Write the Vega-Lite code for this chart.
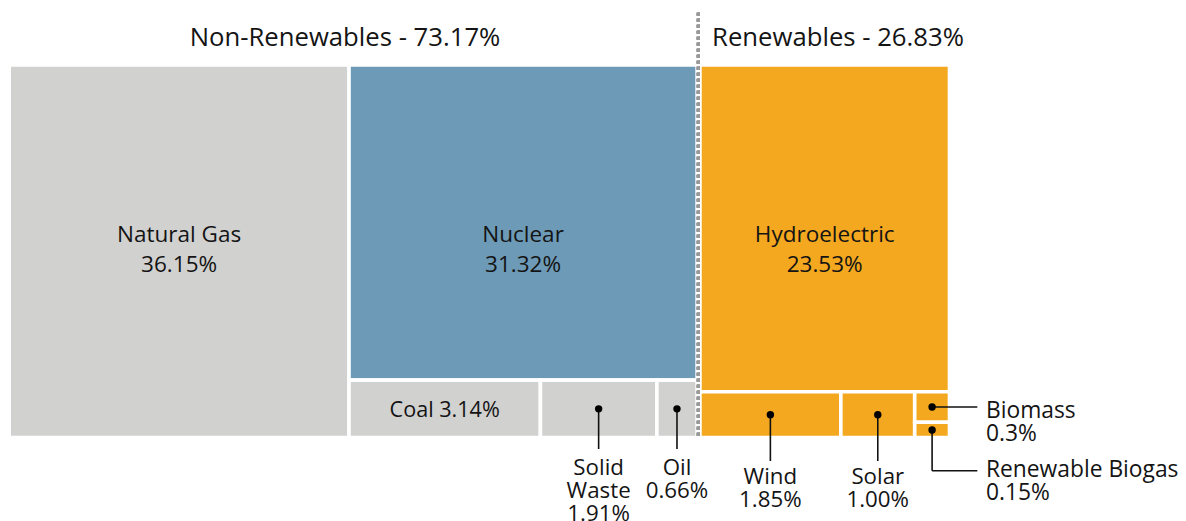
{
  "$schema": "https://vega.github.io/schema/vega-lite/v6.json",
  "width": 1186,
  "height": 521,
  "padding": 0,
  "autosize": {"type": "none"},
  "config": {"view": {"stroke": null}, "font": "Open Sans"},
  "datasets": {
    "sources": [
      {"name": "Natural Gas", "group": "Non-Renewables", "value": 36.15, "pct": "36.15%", "x0": 0, "x1": 36.15, "y0": 0, "y1": 100},
      {"name": "Nuclear", "group": "Non-Renewables", "value": 31.32, "pct": "31.32%", "x0": 36.15, "x1": 73.18, "y0": 0, "y1": 84.58},
      {"name": "Coal", "group": "Non-Renewables", "value": 3.14, "pct": "3.14%", "x0": 36.15, "x1": 56.51, "y0": 84.58, "y1": 100},
      {"name": "Solid Waste", "group": "Non-Renewables", "value": 1.91, "pct": "1.91%", "x0": 56.51, "x1": 68.9, "y0": 84.58, "y1": 100},
      {"name": "Oil", "group": "Non-Renewables", "value": 0.66, "pct": "0.66%", "x0": 68.9, "x1": 73.18, "y0": 84.58, "y1": 100},
      {"name": "Hydroelectric", "group": "Renewables", "value": 23.53, "pct": "23.53%", "x0": 73.48, "x1": 100.03, "y0": 0, "y1": 87.7},
      {"name": "Wind", "group": "Renewables", "value": 1.85, "pct": "1.85%", "x0": 73.48, "x1": 88.47, "y0": 87.7, "y1": 100},
      {"name": "Solar", "group": "Renewables", "value": 1.0, "pct": "1.00%", "x0": 88.47, "x1": 96.33, "y0": 87.7, "y1": 100},
      {"name": "Biomass", "group": "Renewables", "value": 0.3, "pct": "0.3%", "x0": 96.33, "x1": 100.03, "y0": 87.7, "y1": 95.9},
      {"name": "Renewable Biogas", "group": "Renewables", "value": 0.15, "pct": "0.15%", "x0": 96.33, "x1": 100.03, "y0": 95.9, "y1": 100}
    ],
    "groups": [
      {"group": "Non-Renewables", "share": "73.17%"},
      {"group": "Renewables", "share": "26.83%"}
    ]
  },
  "data": {"name": "sources"},
  "transform": [
    {"calculate": "(datum.x0+datum.x1)/2", "as": "cx"},
    {"calculate": "(datum.y0+datum.y1)/2", "as": "cy"},
    {"calculate": "datum.name==='Renewable Biogas' ? 108.88 : (datum.group==='Renewables' ? 106.28 : 103.06)", "as": "lend"},
    {"calculate": "datum.group==='Renewables' ? 112.5 : 110.17", "as": "ty"},
    {"calculate": "datum.name==='Solid Waste' ? 'Solid\\nWaste\\n'+datum.pct : datum.name+'\\n'+datum.pct", "as": "txt"},
    {"calculate": "datum.name==='Biomass' ? 94.61 : 110.7", "as": "ry"},
    {"calculate": "datum.name==='Biomass' ? datum.cy : 108.88", "as": "hy"}
  ],
  "layer": [
    {
      "mark": {"type": "rect", "stroke": "white", "strokeWidth": 3.6},
      "encoding": {
        "x": {"field": "x0", "type": "quantitative", "scale": {"domain": [-0.9787, 125.19], "nice": false, "zero": false}, "axis": null},
        "x2": {"field": "x1"},
        "y": {"field": "y0", "type": "quantitative", "scale": {"domain": [-17.41, 122.38], "nice": false, "zero": false, "reverse": true}, "axis": null},
        "y2": {"field": "y1"},
        "color": {
          "field": "name", "type": "nominal", "legend": null,
          "scale": {
            "domain": ["Natural Gas", "Nuclear", "Coal", "Solid Waste", "Oil", "Hydroelectric", "Wind", "Solar", "Biomass", "Renewable Biogas"],
            "range": ["#d1d1d0", "#6d9ab6", "#d1d1d0", "#d1d1d0", "#d1d1d0", "#f3a81f", "#f3a81f", "#f3a81f", "#f3a81f", "#f3a81f"]
          }
        }
      }
    },
    {
      "transform": [{"filter": {"field": "name", "oneOf": ["Natural Gas", "Nuclear", "Hydroelectric"]}}],
      "mark": {"type": "text", "align": "center", "baseline": "alphabetic", "fontSize": 22.5, "lineHeight": 30.6, "lineBreak": "\n", "color": "#141414"},
      "encoding": {
        "x": {"field": "cx", "type": "quantitative", "scale": {"domain": [-0.9787, 125.19], "nice": false, "zero": false}, "axis": null},
        "y": {"datum": 47.44, "type": "quantitative", "scale": {"domain": [-17.41, 122.38], "nice": false, "zero": false, "reverse": true}, "axis": null},
        "text": {"field": "txt"}
      }
    },
    {
      "transform": [{"filter": {"field": "name", "equal": "Coal"}}, {"calculate": "datum.name+' '+datum.pct", "as": "ctxt"}],
      "mark": {"type": "text", "align": "center", "baseline": "alphabetic", "fontSize": 21.6, "color": "#141414"},
      "encoding": {
        "x": {"field": "cx", "type": "quantitative", "scale": {"domain": [-0.9787, 125.19], "nice": false, "zero": false}, "axis": null},
        "y": {"datum": 94.39, "type": "quantitative", "scale": {"domain": [-17.41, 122.38], "nice": false, "zero": false, "reverse": true}, "axis": null},
        "text": {"field": "ctxt"}
      }
    },
    {
      "transform": [{"filter": {"field": "name", "oneOf": ["Solid Waste", "Oil", "Wind", "Solar", "Renewable Biogas"]}}],
      "mark": {"type": "rule", "color": "#111111", "strokeWidth": 1.6},
      "encoding": {
        "x": {"field": "cx", "type": "quantitative", "scale": {"domain": [-0.9787, 125.19], "nice": false, "zero": false}, "axis": null},
        "y": {"field": "cy", "type": "quantitative", "scale": {"domain": [-17.41, 122.38], "nice": false, "zero": false, "reverse": true}, "axis": null},
        "y2": {"field": "lend"}
      }
    },
    {
      "transform": [{"filter": {"field": "name", "oneOf": ["Biomass", "Renewable Biogas"]}}],
      "mark": {"type": "rule", "color": "#111111", "strokeWidth": 1.6},
      "encoding": {
        "x": {"field": "cx", "type": "quantitative", "scale": {"domain": [-0.9787, 125.19], "nice": false, "zero": false}, "axis": null},
        "x2": {"datum": 102.99},
        "y": {"field": "hy", "type": "quantitative", "scale": {"domain": [-17.41, 122.38], "nice": false, "zero": false, "reverse": true}, "axis": null}
      }
    },
    {
      "transform": [{"filter": {"field": "name", "oneOf": ["Solid Waste", "Oil", "Wind", "Solar", "Biomass", "Renewable Biogas"]}}],
      "mark": {"type": "point", "filled": true, "shape": "circle", "size": 55, "color": "#000000", "opacity": 1},
      "encoding": {
        "x": {"field": "cx", "type": "quantitative", "scale": {"domain": [-0.9787, 125.19], "nice": false, "zero": false}, "axis": null},
        "y": {"field": "cy", "type": "quantitative", "scale": {"domain": [-17.41, 122.38], "nice": false, "zero": false, "reverse": true}, "axis": null}
      }
    },
    {
      "transform": [{"filter": {"field": "name", "oneOf": ["Solid Waste", "Oil", "Wind", "Solar"]}}],
      "mark": {"type": "text", "align": "center", "baseline": "alphabetic", "fontSize": 22.3, "lineHeight": 23, "lineBreak": "\n", "color": "#141414"},
      "encoding": {
        "x": {"field": "cx", "type": "quantitative", "scale": {"domain": [-0.9787, 125.19], "nice": false, "zero": false}, "axis": null},
        "y": {"field": "ty", "type": "quantitative", "scale": {"domain": [-17.41, 122.38], "nice": false, "zero": false, "reverse": true}, "axis": null},
        "text": {"field": "txt"}
      }
    },
    {
      "transform": [{"filter": {"field": "name", "oneOf": ["Biomass", "Renewable Biogas"]}}],
      "mark": {"type": "text", "align": "left", "baseline": "alphabetic", "fontSize": 22.8, "lineHeight": 23, "lineBreak": "\n", "color": "#141414"},
      "encoding": {
        "x": {"datum": 103.91, "type": "quantitative", "scale": {"domain": [-0.9787, 125.19], "nice": false, "zero": false}, "axis": null},
        "y": {"field": "ry", "type": "quantitative", "scale": {"domain": [-17.41, 122.38], "nice": false, "zero": false, "reverse": true}, "axis": null},
        "text": {"field": "txt"}
      }
    },
    {
      "mark": {"type": "rule", "color": "#9a9a9a", "strokeWidth": 3, "strokeDash": [3, 3]},
      "encoding": {
        "x": {"datum": 73.31, "type": "quantitative", "scale": {"domain": [-0.9787, 125.19], "nice": false, "zero": false}, "axis": null},
        "y": {"datum": -14.02, "type": "quantitative", "scale": {"domain": [-17.41, 122.38], "nice": false, "zero": false, "reverse": true}, "axis": null},
        "y2": {"datum": 99.5}
      }
    },
    {
      "data": {"name": "groups"},
      "transform": [{"filter": {"field": "group", "equal": "Non-Renewables"}}, {"calculate": "datum.group+' - '+datum.share", "as": "title"}],
      "mark": {"type": "text", "align": "center", "baseline": "alphabetic", "fontSize": 25.7, "color": "#141414"},
      "encoding": {
        "x": {"datum": 35.72, "type": "quantitative", "scale": {"domain": [-0.9787, 125.19], "nice": false, "zero": false}, "axis": null},
        "y": {"datum": -5.2, "type": "quantitative", "scale": {"domain": [-17.41, 122.38], "nice": false, "zero": false, "reverse": true}, "axis": null},
        "text": {"field": "title"}
      }
    },
    {
      "data": {"name": "groups"},
      "transform": [{"filter": {"field": "group", "equal": "Renewables"}}, {"calculate": "datum.group+' - '+datum.share", "as": "title"}],
      "mark": {"type": "text", "align": "left", "baseline": "alphabetic", "fontSize": 25.7, "color": "#141414"},
      "encoding": {
        "x": {"datum": 74.77, "type": "quantitative", "scale": {"domain": [-0.9787, 125.19], "nice": false, "zero": false}, "axis": null},
        "y": {"datum": -5.2, "type": "quantitative", "scale": {"domain": [-17.41, 122.38], "nice": false, "zero": false, "reverse": true}, "axis": null},
        "text": {"field": "title"}
      }
    }
  ]
}
